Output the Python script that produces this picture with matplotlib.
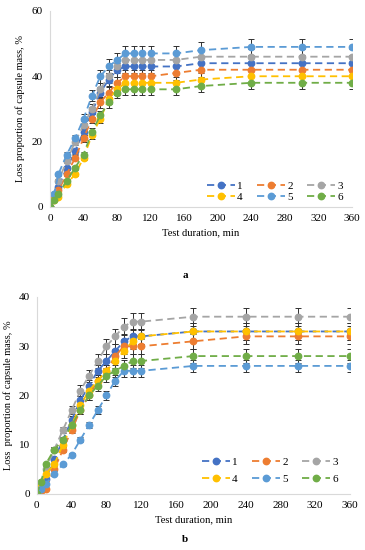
import numpy as np
import matplotlib
matplotlib.use('Agg')
import matplotlib.pyplot as plt

plt.rcParams['font.family'] = ['Liberation Serif', 'DejaVu Serif']

colors = ['#4472C4', '#ED7D31', '#A5A5A5', '#FFC000', '#5B9BD5', '#70AD47']
labels = ['1', '2', '3', '4', '5', '6']

# panel a
t_a = [0, 5, 10, 20, 30, 40, 50, 60, 70, 80, 90, 100, 110, 120, 150, 180, 240, 300, 360]
a1 = [0, 3, 6, 12, 17, 23, 29, 35, 39, 42, 43, 43, 43, 43, 43, 44, 44, 44, 44]
a2 = [0, 3, 5, 10, 15, 21, 27, 32, 35, 38, 40, 40, 40, 40, 41, 42, 42, 42, 42]
a3 = [0, 4, 8, 14, 20, 25, 30, 36, 40, 43, 45, 45, 45, 45, 45, 46, 46, 46, 46]
a4 = [0, 2, 3, 7, 10, 15, 22, 27, 33, 36, 38, 38, 38, 38, 38, 39, 40, 40, 40]
a5 = [0, 4, 10, 16, 21, 27, 34, 40, 43, 45, 47, 47, 47, 47, 47, 48, 49, 49, 49]
a6 = [0, 2, 4, 8, 12, 16, 23, 28, 32, 35, 36, 36, 36, 36, 36, 37, 38, 38, 38]

# panel b
t_b = [0, 5, 10, 20, 30, 40, 50, 60, 70, 80, 90, 100, 110, 120, 180, 240, 300, 360]
b1 = [0, 2, 3, 7, 11, 15, 19, 22, 25, 27, 29, 31, 32, 32, 33, 33, 33, 33]
b2 = [0, 0.5, 1, 5, 9, 13, 17, 20, 23, 25, 28, 30, 30, 30, 31, 32, 32, 32]
b3 = [0, 2.5, 5, 9, 13, 17, 21, 24, 27, 30, 32, 34, 35, 35, 36, 36, 36, 36]
b4 = [0, 2, 4, 6, 10, 14, 18, 21, 23, 25, 27, 29, 31, 32, 33, 33, 33, 33]
b5 = [0, 1, 2, 4, 6, 8, 11, 14, 17, 20, 23, 25, 25, 25, 26, 26, 26, 26]
b6 = [0, 2.5, 6, 9, 11, 14, 17, 20, 22, 24, 25, 26, 27, 27, 28, 28, 28, 28]

ERR_FRAC = 0.05


def draw_panel(ax, t, series, ymax, ystep, legend_anchor, rowgap):
    handles = []
    for y, c, lab in zip(series, colors, labels):
        y = np.array(y, dtype=float)
        ax.errorbar(t, y, yerr=y * ERR_FRAC, fmt='none', ecolor='#303030',
                    elinewidth=0.7, capsize=2.2, capthick=0.7, zorder=1)
        h, = ax.plot(t, y, color=c, linestyle=(0, (4, 2.5)), linewidth=1.3,
                     marker='o', markersize=4.6, label=lab, zorder=2)
        handles.append(h)
    ax.set_xlim(0, 360)
    ax.set_ylim(0, ymax)
    ax.set_xticks(np.arange(0, 361, 40))
    ax.set_yticks(np.arange(0, ymax + 1, ystep))
    for s in ['top', 'right']:
        ax.spines[s].set_visible(False)
    for s in ['left', 'bottom']:
        ax.spines[s].set_color('#d9d9d9')
        ax.spines[s].set_linewidth(0.8)
    ax.tick_params(length=0, labelsize=8, pad=5)
    ax.set_xlabel('Test duration, min', fontsize=7.6, labelpad=4)
    # row-major order: 1 2 3 / 4 5 6
    order = [0, 3, 1, 4, 2, 5]
    ax.legend([handles[i] for i in order], [labels[i] for i in order],
              ncol=3, frameon=False, fontsize=8, loc='lower right',
              bbox_to_anchor=legend_anchor, handlelength=2.5,
              columnspacing=1.3, handletextpad=0.2, labelspacing=rowgap,
              borderaxespad=0)


fig = plt.figure(figsize=(3.65, 5.5), dpi=100)

ax_a = fig.add_axes([0.137, 0.624, 0.827, 0.356])
draw_panel(ax_a, t_a, [a1, a2, a3, a4, a5, a6], 60, 20, (0.985, 0.0), 0.15)
ax_a.set_ylabel('Loss proportion of capsule mass, %', fontsize=7.4, labelpad=5)

ax_b = fig.add_axes([0.101, 0.102, 0.858, 0.358])
draw_panel(ax_b, t_b, [b1, b2, b3, b4, b5, b6], 40, 10, (0.975, 0.03), 0.6)
ax_b.set_ylabel('Loss  proportion of capsule mass, %', fontsize=7.4, labelpad=4)

fig.text(0.507, 1 - 275 / 550, 'a', ha='center', va='center',
         fontsize=8, fontweight='bold')
fig.text(0.507, 1 - 540 / 550, 'b', ha='center', va='center',
         fontsize=8, fontweight='bold')

fig.savefig('out.png', dpi=100)
